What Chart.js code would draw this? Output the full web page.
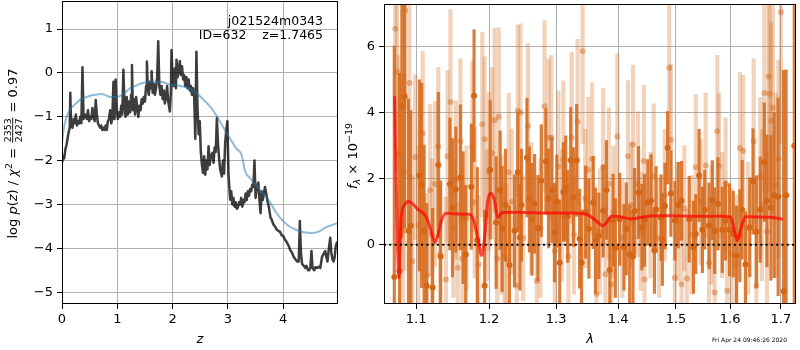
<!DOCTYPE html>
<html><head><meta charset="utf-8">
<script src="https://cdn.jsdelivr.net/npm/chart.js@4.4.1/dist/chart.umd.min.js"></script>
<style>
html,body{margin:0;padding:0;background:#fff;}
#wrap{position:relative;width:800px;height:350px;overflow:hidden;background:#fff;}
canvas{position:absolute;top:0;}
</style></head><body>
<div id="wrap">
<canvas id="c1" width="342" height="350" style="left:0px"></canvas>
<canvas id="c2" width="458" height="350" style="left:342px"></canvas>
</div>
<script>
// ---------------- LEFT PANEL DATA: log p(z) ----------------
const zTicks = [0, 1, 2, 3, 4];
const logpTicks = [-5, -4, -3, -2, -1, 0, 1];
const zLimits = [0, 4.99];
const logpLimits = [-5.27, 1.64];
// [z, log p(z)]
const pzCurve = [
 [0,-2.05],[0.02,-1.9],[0.04,-1.95],[0.06,-1.75],[0.08,-1.65],[0.10,-1.5],[0.12,-1.35],[0.14,-1.25],[0.15,-0.45],[0.165,-1.2],
 [0.19,-1.25],[0.21,-1.05],[0.23,-1.15],[0.25,-0.95],[0.27,-1.2],[0.29,-1.1],[0.31,-1.15],[0.33,-1.0],[0.35,-1.15],[0.37,0.13],
 [0.39,-1.05],[0.41,-1.0],[0.43,-0.95],[0.45,-1.05],[0.47,-0.85],[0.49,-1.1],[0.51,-1.0],[0.53,-1.05],[0.55,-0.8],[0.57,-1.0],
 [0.59,-1.1],[0.61,-0.62],[0.63,-0.95],[0.65,-1.15],[0.67,-1.2],[0.69,-1.25],[0.71,-1.2],[0.73,-1.3],[0.75,-1.25],[0.77,-1.3],
 [0.79,-1.2],[0.81,-1.3],[0.83,-1.1],[0.85,-1.05],[0.87,-0.85],[0.89,-1.15],[0.91,-1.05],[0.93,-0.2],[0.95,-1.05],[0.97,-0.15],
 [0.99,-0.85],[1.01,-1.05],[1.03,-0.9],[1.05,-1.0],[1.07,-0.75],[1.09,-0.95],[1.11,0.07],[1.13,-0.75],[1.15,-1.0],[1.17,-0.55],
 [1.19,-0.95],[1.21,-0.65],[1.23,-0.9],[1.25,-0.5],[1.265,0.18],[1.28,-0.85],[1.30,-0.6],[1.32,-0.95],[1.34,-0.55],[1.36,-0.8],
 [1.38,-1.0],[1.40,-0.75],[1.42,-0.85],[1.44,-0.6],[1.46,-0.7],[1.48,-0.55],[1.50,-0.65],[1.52,-0.3],[1.535,0.26],[1.55,-0.35],
 [1.57,-0.5],[1.59,-0.2],[1.61,-0.35],[1.62,0.04],[1.64,-0.45],[1.66,-0.25],[1.68,-0.5],[1.70,-0.35],[1.72,-0.1],[1.74,0.72],
 [1.76,-0.3],[1.78,-0.5],[1.80,-0.3],[1.82,-0.6],[1.84,-0.4],[1.86,-0.7],[1.88,-0.55],[1.90,-0.3],[1.92,-0.65],[1.95,-0.88],
 [1.97,-0.4],[1.98,0.52],[2.00,-0.15],[2.02,-0.3],[2.04,0.1],[2.06,-0.35],[2.07,0.3],[2.09,-0.1],[2.11,0.05],[2.13,0.27],
 [2.15,-0.05],[2.17,0.15],[2.19,-0.15],[2.21,-0.05],[2.23,-0.3],[2.25,-0.1],[2.27,-0.35],[2.29,-0.15],[2.31,-0.4],[2.33,-0.3],
 [2.35,-0.5],[2.37,-0.35],[2.39,-0.55],[2.41,-1.5],[2.43,0.48],[2.45,-0.8],[2.47,-1.4],[2.49,-1.1],[2.51,-1.8],[2.53,-2.1],
 [2.55,-2.28],[2.57,-1.9],[2.59,-2.32],[2.61,-2.0],[2.63,-2.2],[2.65,-1.67],[2.67,-2.1],[2.69,-1.9],[2.72,-1.82],[2.74,-2.05],
 [2.76,-1.7],[2.78,-1.8],[2.80,-1.03],[2.82,-1.6],[2.84,-1.95],[2.86,-2.2],[2.89,-2.36],[2.91,-2.0],[2.93,-2.3],[2.95,-1.6],
 [2.97,-1.3],[2.99,-1.1],[3.01,-2.3],[3.04,-2.89],[3.06,-2.7],[3.08,-3.0],[3.10,-2.85],[3.12,-3.05],[3.14,-2.95],[3.16,-3.1],
 [3.18,-3.07],[3.20,-2.95],[3.22,-3.0],[3.24,-2.85],[3.26,-3.05],[3.28,-2.9],[3.30,-2.95],[3.32,-2.75],[3.34,-2.9],[3.36,-2.7],
 [3.38,-2.8],[3.40,-2.65],[3.42,-2.7],[3.44,-2.55],[3.46,-2.6],[3.48,-2.0],[3.50,-2.85],[3.52,-2.6],[3.55,-2.5],[3.57,-2.9],
 [3.59,-3.2],[3.61,-2.7],[3.63,-2.9],[3.65,-2.75],[3.67,-2.6],[3.70,-2.8],[3.72,-2.95],[3.74,-3.05],[3.77,-3.3],[3.79,-3.34],
 [3.82,-3.45],[3.85,-3.5],[3.88,-3.57],[3.91,-3.6],[3.94,-3.62],[3.97,-3.7],[4.00,-3.72],[4.03,-3.8],[4.06,-3.85],[4.10,-3.95],
 [4.13,-4.05],[4.16,-4.1],[4.19,-4.2],[4.22,-4.25],[4.25,-4.3],[4.28,-4.3],[4.30,-3.38],[4.32,-4.1],[4.34,-4.35],[4.37,-4.4],
 [4.40,-4.45],[4.42,-4.4],[4.45,-4.5],[4.47,-4.5],[4.49,-4.45],[4.51,-4.06],[4.53,-4.45],[4.56,-4.5],[4.58,-4.43],[4.61,-4.45],
 [4.64,-4.42],[4.67,-4.45],[4.70,-4.2],[4.72,-4.15],[4.74,-4.1],[4.76,-4.06],[4.78,-4.2],[4.80,-4.3],[4.83,-3.95],[4.85,-3.76],
 [4.87,-4.1],[4.89,-4.25],[4.91,-4.3],[4.93,-4.2],[4.95,-3.95],[4.97,-3.87],[4.99,-3.95]
];
// smooth curve [z, value]
const priorCurve = [
 [0,-1.6],[0.02,-1.37],[0.07,-1.05],[0.145,-0.84],[0.25,-0.7],[0.33,-0.61],[0.42,-0.56],[0.51,-0.52],[0.6,-0.5],[0.69,-0.48],
 [0.78,-0.5],[0.87,-0.55],[0.96,-0.55],[1.05,-0.53],[1.14,-0.45],[1.23,-0.35],[1.32,-0.3],[1.41,-0.25],[1.5,-0.22],[1.59,-0.2],
 [1.68,-0.2],[1.76,-0.2],[1.85,-0.22],[1.95,-0.27],[2.05,-0.28],[2.19,-0.31],[2.3,-0.36],[2.43,-0.46],[2.55,-0.6],[2.68,-0.77],
 [2.8,-0.99],[2.92,-1.25],[3.04,-1.5],[3.15,-1.72],[3.25,-1.88],[3.31,-2.24],[3.4,-2.4],[3.52,-2.58],[3.64,-2.75],[3.76,-2.95],
 [3.88,-3.2],[4.0,-3.38],[4.1,-3.49],[4.2,-3.56],[4.3,-3.61],[4.4,-3.64],[4.52,-3.65],[4.64,-3.62],[4.76,-3.53],[4.88,-3.47],[4.99,-3.42]
];

// ---------------- RIGHT PANEL DATA: spectrum ----------------
const lamTicks = [1.1, 1.2, 1.3, 1.4, 1.5, 1.6, 1.7];
const fluxTicks = [0, 2, 4, 6];
const lamLimits = [1.0586, 1.731];
const fluxLimits = [-1.8, 7.3];
// dark (primary) spectrum points: wavelength, flux, error
const darkLam = [1.0717,1.0784,1.0814,1.0849,1.0900,1.0930,1.1043,1.1073,1.1105,1.1139,1.1219,1.1295,1.1326,1.1452,1.1488,1.1534,1.1597,1.1634,1.1671,1.1749,
 1.1787,1.1833,1.1937,1.2016,1.2102,1.2160,1.2189,1.2238,1.2296,1.2370,1.2419,1.2452,1.2473,1.2556,1.2592,1.2631,1.2671,1.2721,1.2772,1.2842,
 1.2883,1.2934,1.2975,1.3011,1.3056,1.3114,1.3150,1.3181,1.3228,1.3271,1.3323,1.3370,1.3402,1.3466,1.3519,1.3589,1.3626,1.3680,1.3751,1.3805,
 1.3860,1.3915,1.3953,1.4025,1.4097,1.4136,1.4193,1.4249,1.4277,1.4345,1.4401,1.4447,1.4503,1.4560,1.4619,1.4647,1.4734,1.4758,1.4804,1.4851,
 1.4909,1.4980,1.5041,1.5100,1.5238,1.5316,1.5358,1.5420,1.5480,1.5523,1.5604,1.5665,1.5709,1.5771,1.5852,1.5914,1.5990,1.6060,1.6123,1.6188,
 1.6232,1.6296,1.6381,1.6445,1.6510,1.6588,1.6667,1.6720,1.6800,1.6866,1.6945,1.7054,1.7107,1.7275];
const darkFlux = [-0.98,-0.8,4.2,4.5,0.42,0.57,2.1,1.8,0.42,-1.25,-1.3,2.42,-0.36,1.84,1.12,1.67,2.04,0.82,-0.3,1.76,
 4.52,0.14,-1.25,2.27,0.67,1.65,0.48,1.2,-0.62,0.42,2.2,0.22,1.2,2.64,1.37,0.77,1.24,0.5,1.94,2.52,
 1.4,1.66,0.37,1.32,-0.55,1.6,1.7,0.86,2.56,1.44,2.56,0.18,-0.55,0.99,0.48,1.28,0.12,0.27,1.02,1.66,
 -0.77,0.74,-0.1,0.77,-0.08,0.48,-0.3,-0.36,1.02,1.58,0.53,0.74,1.28,1.33,-0.18,1.07,0.82,0.16,1.17,2.94,
 1.55,0.73,1.2,1.33,0.77,-0.08,0.32,2.1,0.45,1.06,0.57,1.35,0.42,1.24,0.45,0.73,0.45,0.32,-0.33,0.27,
 1.06,-0.6,0.53,1.92,0.39,1.06,2.5,1.33,1.12,1.5,1.45,-1.41,1.5,3.0];
const darkErr = [7,6,4,4,4,3.5,2.9,3.1,2.6,2.5,2.4,2.2,2.3,2.0,2.1,1.9,2.2,2.0,2.1,1.9,
 2.0,2.2,2.3,2.1,2.0,1.8,1.9,1.7,1.8,1.7,1.8,1.6,1.7,1.8,1.6,1.7,1.5,1.6,1.7,1.6,
 1.5,1.6,1.5,1.4,1.9,1.5,1.6,1.4,1.6,1.5,1.7,1.5,1.6,1.4,1.5,1.4,1.6,1.3,1.4,1.5,
 1.6,1.4,1.5,1.4,1.3,1.4,1.5,1.4,1.3,1.4,1.3,1.4,1.3,1.4,1.3,1.3,1.3,1.4,1.3,1.1,
 1.3,1.2,1.3,1.2,1.3,1.4,1.2,1.4,1.3,1.2,1.3,1.2,1.3,1.4,1.3,1.2,1.4,1.3,1.5,1.4,
 1.5,1.6,1.5,1.6,1.7,1.6,1.8,2.0,2.2,2.5,3.0,6.7,3.8,6];
// light (secondary) spectrum points
const lightLam = [1.0730,1.0750,1.0772,1.0827,1.0845,1.0858,1.0913,1.0987,1.1086,1.1139,1.1184,1.1250,1.1295,1.1398,1.1420,1.1460,1.1534,1.1597,1.1625,1.1763,
 1.1797,1.1904,1.1937,1.1998,1.2045,1.2080,1.2117,1.2141,1.2224,1.2257,1.2286,1.2404,1.2419,1.2458,1.2570,1.2705,1.2822,1.2883,1.2924,1.3036,
 1.3114,1.3192,1.3244,1.3338,1.3418,1.3508,1.3572,1.3642,1.3751,1.3788,1.3844,1.3886,1.3986,1.4164,1.4249,1.4333,1.4435,1.4447,1.4607,1.4880,
 1.4909,1.4980,1.5100,1.5195,1.5358,1.5541,1.5604,1.5709,1.5758,1.5790,1.5914,1.5946,1.6188,1.6251,1.6458,1.6510,1.6588,1.6667,1.6754,1.6774,
 1.6806,1.6840,1.7000,
 1.095,1.103,1.121,1.132,1.150,1.156,1.168,1.185,1.197,1.218,1.233,1.250,1.262,1.276,1.298,1.309,1.328,1.346,1.370,1.392,
 1.407,1.422,1.438,1.455,1.470,1.480,1.503,1.515,1.528,1.545,1.565,1.585,1.603,1.612,1.635,1.662,1.672,1.690,1.695];
const lightFlux = [6.55,5.25,2.75,0.42,2.2,7.1,4.9,2.65,3.37,-0.94,1.65,1.84,2.98,-1.06,2.68,4.33,1.96,3.14,-0.42,2.97,
 1.29,3.65,3.2,2.22,2.77,3.77,-0.42,3.88,-0.33,-0.45,2.2,-1.25,4.06,4.0,3.6,-1.1,4.2,3.24,3.24,2.37,
 2.57,-0.36,3.24,3.73,5.87,2.27,2.6,-1.5,2.35,-0.9,1.85,-1.2,3.28,2.68,3.04,1.84,2.54,-1.05,2.07,5.37,
 3.18,-1.0,-1.2,-1.03,2.35,2.4,-0.55,-1.45,3.44,2.38,1.84,-1.4,2.93,2.84,3.14,-1.25,2.06,4.6,5.1,4.58,
 3.75,4.15,7.05,
 -0.5,0.6,0.3,-0.3,0.5,-0.7,0.8,-0.6,0.9,0.6,1.3,0.2,1.1,0.5,-0.2,0.9,0.3,1.4,0.4,1.0,
 0.2,1.2,0.4,0.9,0.2,1.5,0.7,1.1,0.3,1.3,0.6,0.9,-0.3,-0.6,0.5,1.2,0.4,1.8,2.6];
const lightErr = [3,3,3,2.5,3,3,3,2.5,2.5,2.5,2.6,2.5,2.4,2.5,2.6,2.8,2.4,2.5,2.3,2.6,
 2.3,2.8,2.5,2.4,2.6,2.8,2.2,2.7,2.2,2.3,2.4,2.2,2.6,2.7,2.5,2.2,2.6,2.4,2.5,2.3,
 2.4,2.2,2.6,2.5,2.8,2.2,2.3,2.0,2.4,2.1,2.3,2.0,2.5,2.3,2.4,2.2,2.3,2.0,2.2,2.5,
 2.3,2.0,2.0,2.1,2.2,2.2,2.0,2.0,2.3,2.2,2.0,2.1,2.3,2.3,2.5,2.2,2.4,3.0,3.5,3.5,
 3.0,3.2,4,
 2.6,2.4,2.3,2.2,2.1,2.0,2.2,2.1,2.0,2.1,2.2,1.9,2.0,2.1,1.9,2.0,1.8,2.1,1.9,2.0,
 1.8,1.9,1.8,1.9,1.8,2.0,1.8,1.9,1.8,1.9,1.8,1.9,2.0,2.1,2.0,2.3,2.4,2.8,3.0];
// model spectrum [wavelength, flux]
const modelCurve = [
 [1.0721,4.5],[1.0745,1.5],[1.0776,-1.0],[1.0806,0.85],[1.085,1.2],[1.0891,1.32],[1.095,1.25],[1.1021,1.07],[1.108,0.98],[1.1131,0.85],
 [1.118,0.55],[1.1225,0.2],[1.1254,0.07],[1.129,0.3],[1.134,0.75],[1.1398,0.95],[1.15,0.94],[1.16,0.93],[1.1717,0.92],[1.178,0.75],
 [1.184,0.2],[1.1895,-0.33],[1.194,0.3],[1.198,1.3],[1.2023,1.57],[1.207,1.4],[1.2131,0.82],[1.2185,0.97],[1.24,0.98],[1.26,0.97],
 [1.28,0.96],[1.30,0.96],[1.32,0.96],[1.3349,0.95],[1.35,0.9],[1.362,0.75],[1.375,0.57],[1.382,0.7],[1.3886,0.87],[1.405,0.84],
 [1.4215,0.78],[1.44,0.83],[1.462,0.88],[1.50,0.87],[1.54,0.86],[1.58,0.86],[1.601,0.84],[1.607,0.5],[1.6138,0.12],[1.621,0.5],
 [1.6298,0.85],[1.65,0.84],[1.68,0.83],[1.7042,0.77]
];
const zeroLevel = [0, 0];

// ---------------- helpers ----------------
const FONT = 'DejaVu Sans';
const fmtMinus = v => (v < 0 ? '\u2212' : '') + Math.abs(v);

function drawRotatedRuns(ctx, runs, cx, cy) {
  ctx.save();
  ctx.translate(cx, cy);
  ctx.rotate(-Math.PI / 2);
  ctx.fillStyle = '#000';
  ctx.textBaseline = 'alphabetic';
  ctx.textAlign = 'left';
  const widths = runs.map(r => {
    ctx.font = r.font;
    if (r.frac) return Math.max(ctx.measureText(r.num).width, ctx.measureText(r.den).width) + 3;
    return ctx.measureText(r.t).width;
  });
  const total = widths.reduce((a, b) => a + b, 0);
  let x = -total / 2;
  runs.forEach((r, i) => {
    ctx.font = r.font;
    if (r.frac) {
      const w = widths[i];
      ctx.textAlign = 'center';
      ctx.fillText(r.num, x + w / 2, r.numDy);
      ctx.fillText(r.den, x + w / 2, r.denDy);
      ctx.fillRect(x + 1, r.lineDy - 0.45, w - 2, 0.9);
      ctx.textAlign = 'left';
    } else {
      ctx.fillText(r.t, x, r.dy || 0);
    }
    x += widths[i];
  });
  ctx.restore();
}

const framePlugin = {
  id: 'frame',
  afterDraw(chart) {
    const {ctx, chartArea: a} = chart;
    ctx.save();
    ctx.strokeStyle = '#000';
    ctx.lineWidth = 1;
    ctx.strokeRect(Math.round(a.left) + 0.5, Math.round(a.top) + 0.5,
      Math.round(a.right - a.left) - 1, Math.round(a.bottom - a.top) - 1);
    ctx.restore();
  }
};

function axisCommon(ticksArr, fmt, isX, fixedSize) {
  return {
    offset: false,
    afterBuildTicks: s => { s.ticks = ticksArr.map(v => ({value: v})); },
    afterFit: s => {
      if (isX) { s.height = fixedSize; s.paddingLeft = 0; s.paddingRight = 0; }
      else { s.width = fixedSize; s.paddingTop = 0; s.paddingBottom = 0; }
    },
    grid: {offset: false, color: '#b0b0b0', lineWidth: 1, tickColor: '#000', tickLength: 5, tickWidth: 1, drawTicks: true},
    border: {display: false},
    ticks: {font: {family: FONT, size: 13}, color: '#000', padding: isX ? 3 : 4,
      maxRotation: 0, minRotation: 0, autoSkip: false, callback: v => fmt(v)}
  };
}

// ---------------- LEFT CHART ----------------
const leftLabelPlugin = {
  id: 'leftLabels',
  afterDraw(chart) {
    const ctx = chart.ctx, a = chart.chartArea;
    const F = '13px "DejaVu Sans"', FI = 'italic 13px "DejaVu Sans"', FS = '9.5px "DejaVu Sans"';
    drawRotatedRuns(ctx, [
      {t: 'log ', font: F}, {t: 'p', font: FI}, {t: '(', font: F}, {t: 'z', font: FI},
      {t: ') / ', font: F}, {t: '\u03c7', font: FI}, {t: '2', font: FS, dy: -5.5},
      {t: ' = ', font: F},
      {frac: true, num: '2353', den: '2427', font: FS, numDy: -6.3, denDy: 4.6, lineDy: -4.3},
      {t: ' = 0.97', font: F}
    ], 17, (a.top + a.bottom) / 2 + 1);
    ctx.save();
    ctx.fillStyle = '#000';
    ctx.font = '12.5px "DejaVu Sans"';
    ctx.textAlign = 'right';
    ctx.textBaseline = 'alphabetic';
    ctx.fillText('j021524m0343', 323, 25);
    ctx.fillText('ID=632    z=1.7465', 323, 38.5);
    ctx.restore();
  }
};

new Chart(document.getElementById('c1'), {
  type: 'line',
  data: {datasets: [
    {data: priorCurve.map(p => ({x: p[0], y: p[1]})), borderColor: 'rgba(31,119,180,0.5)', borderWidth: 2,
     pointRadius: 0, order: 0, clip: 0, cubicInterpolationMode: 'monotone'},
    {data: pzCurve.map(p => ({x: p[0], y: p[1]})), borderColor: 'rgba(0,0,0,0.76)', borderWidth: 2.5,
     pointRadius: 0, order: 1, clip: 0, tension: 0, borderJoinStyle: 'round'}
  ]},
  options: {
    responsive: false, animation: false, events: [],
    layout: {padding: {top: 1, right: 4, left: 0, bottom: 0}},
    plugins: {legend: {display: false}, tooltip: {enabled: false}},
    scales: {
      x: Object.assign({type: 'linear', min: zLimits[0], max: zLimits[1],
        title: {display: true, text: 'z', font: {family: FONT, size: 13, style: 'italic'}, color: '#000', padding: {top: 0, bottom: 3}}},
        axisCommon(zTicks, fmtMinus, true, 46)),
      y: Object.assign({type: 'linear', min: logpLimits[0], max: logpLimits[1], title: {display: false}},
        axisCommon(logpTicks, fmtMinus, false, 62))
    }
  },
  plugins: [framePlugin, leftLabelPlugin]
});

// ---------------- RIGHT CHART ----------------
const rightLabelPlugin = {
  id: 'rightLabels',
  afterDraw(chart) {
    const ctx = chart.ctx, a = chart.chartArea;
    const F = '13px "DejaVu Sans"', FI = 'italic 13px "DejaVu Sans"', FS = '9.5px "DejaVu Sans"', FSI = 'italic 9.5px "DejaVu Sans"';
    drawRotatedRuns(ctx, [
      {t: 'f', font: FI}, {t: '\u03bb', font: FSI, dy: 2.8},
      {t: ' \u00d7 10', font: F}, {t: '\u221219', font: FS, dy: -5.5}
    ], 15, (a.top + a.bottom) / 2 + 2);
    ctx.save();
    ctx.fillStyle = '#000';
    ctx.font = '6px "DejaVu Sans"';
    ctx.textAlign = 'right';
    ctx.textBaseline = 'alphabetic';
    ctx.fillText('Fri Apr 24 09:46:26 2020', 445, 342);
    ctx.restore();
  }
};

const toBars = (lam, f, e) => lam.map((x, i) => ({x: x, y: [f[i] - e[i], f[i] + e[i]]}));
const toPts = (lam, f) => lam.map((x, i) => ({x: x, y: f[i]}));

new Chart(document.getElementById('c2'), {
  type: 'scatter',
  data: {datasets: [
    {type: 'line', data: lamLimits.map((x, i) => ({x: x, y: zeroLevel[i]})), borderColor: '#000', borderWidth: 2,
     borderDash: [2, 3.3], pointRadius: 0, order: 1, clip: 0, showLine: true},
    {type: 'line', data: modelCurve.map(p => ({x: p[0], y: p[1]})), borderColor: 'rgba(255,0,0,0.7)', borderWidth: 3,
     pointRadius: 0, order: 2, clip: 0, showLine: true, cubicInterpolationMode: 'monotone'},
    {type: 'scatter', data: toPts(darkLam, darkFlux), backgroundColor: 'rgb(212,102,22)', borderWidth: 0,
     pointRadius: 3, order: 3, clip: 0},
    {type: 'bar', data: toBars(darkLam, darkFlux, darkErr), backgroundColor: 'rgba(214,106,28,0.88)', borderWidth: 0,
     barThickness: 2.5, grouped: false, order: 4, clip: 0},
    {type: 'scatter', data: toPts(lightLam, lightFlux), backgroundColor: 'rgba(210,105,30,0.45)', borderWidth: 0,
     pointRadius: 3, order: 5, clip: 0},
    {type: 'bar', data: toBars(lightLam, lightFlux, lightErr), backgroundColor: 'rgba(210,105,30,0.3)', borderWidth: 0,
     barThickness: 3.5, grouped: false, order: 6, clip: 0}
  ]},
  options: {
    responsive: false, animation: false, events: [],
    layout: {padding: {top: 1, right: 1, left: 0, bottom: 0}},
    plugins: {legend: {display: false}, tooltip: {enabled: false}},
    scales: {
      x: Object.assign({type: 'logarithmic', min: lamLimits[0], max: lamLimits[1],
        title: {display: true, text: '\u03bb', font: {family: FONT, size: 13, style: 'italic'}, color: '#000', padding: {top: 0, bottom: 3}}},
        axisCommon(lamTicks, v => Number(v).toFixed(1), true, 46)),
      y: Object.assign({type: 'linear', min: fluxLimits[0], max: fluxLimits[1], title: {display: false}},
        axisCommon(fluxTicks, fmtMinus, false, 42))
    }
  },
  plugins: [framePlugin, rightLabelPlugin]
});
</script>
</body></html>
